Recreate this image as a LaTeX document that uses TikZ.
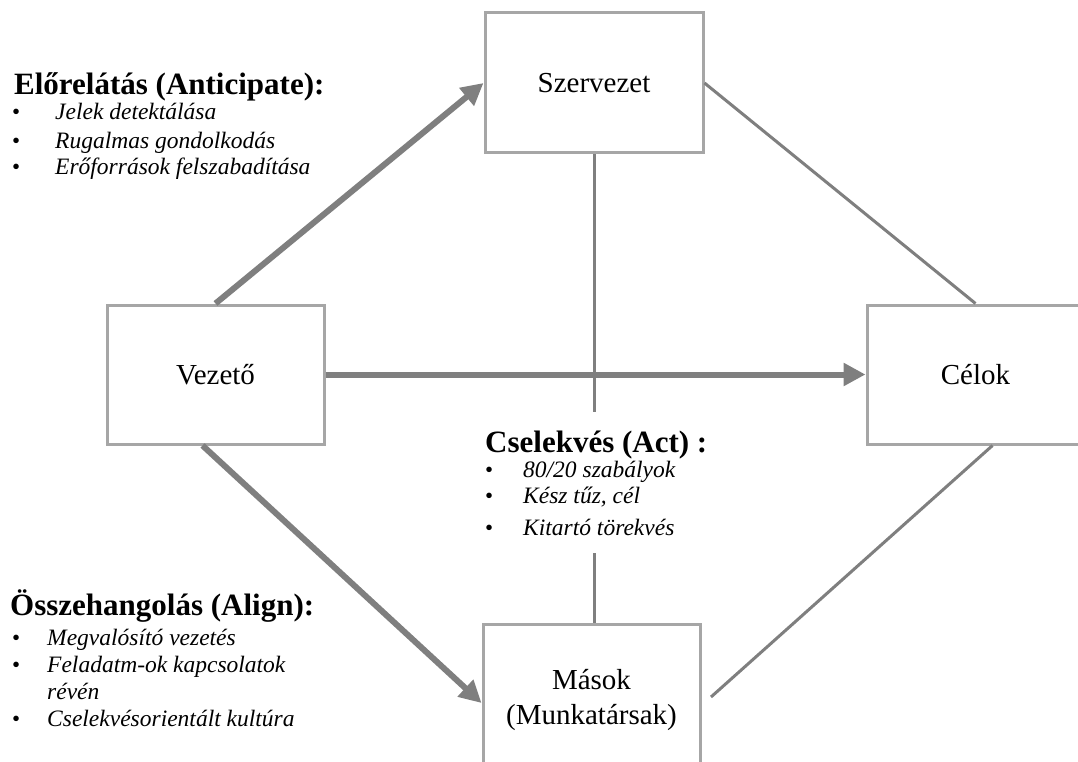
\documentclass[tikz,border=0pt]{standalone}
\usepackage{fontspec}
\setmainfont{Liberation Serif}
\usetikzlibrary{arrows.meta}
\definecolor{boxgray}{HTML}{A6A6A6}
\definecolor{linegray}{HTML}{7F7F7F}

\begin{document}
\begin{tikzpicture}[x=1pt,y=-1pt,
  box/.style={draw=boxgray, line width=3pt, fill=white, minimum width=217pt,
    minimum height=139pt, inner sep=0pt, align=center,
    font=\fontsize{29}{35}\selectfont},
  thickarrow/.style={draw=linegray, line width=6pt,
    -{Triangle[length=22pt,width=22pt]}},
  thinlink/.style={draw=linegray, line width=3pt},
  heading/.style={anchor=base west, inner sep=0pt, font=\fontsize{31}{34}\selectfont\bfseries},
  item/.style={anchor=base west, inner sep=0pt, font=\fontsize{23.5}{26}\selectfont\itshape},
  bullet/.style={anchor=base west, inner sep=0pt, font=\fontsize{23}{26}\selectfont}]
\useasboundingbox (0,0) rectangle (1078,762);
\clip (0,0) rectangle (1078,762);

% the four boxes
\node[box, minimum width=218pt, minimum height=140pt] (szerv) at (594,83) {Szervezet};
\node[box] (vez) at (215.5,374.5) {Vezető};
\node[box] (cel) at (975.5,374.5) {Célok};
\node[box, minimum height=152pt] (mas) at (591.5,700) {Mások\\(Munkatársak)};

% thick arrows leaving the leader
\draw[thickarrow] (vez.north) -- (szerv.west);
\draw[thickarrow] (vez.east) -- (cel.west);
\draw[thickarrow] ([xshift=-13pt]vez.south) -- ([yshift=-3pt]mas.west);

% thin links
\draw[thinlink] (szerv.east) -- (cel.north);
\coordinate (cmEnd) at (711,697);
\draw[thinlink] ([xshift=17pt]cel.south) -- (cmEnd);
\coordinate (actTop) at (594,412);
\coordinate (actBot) at (594,553);
\draw[thinlink] (szerv.south) -- (actTop);
\draw[thinlink] (actBot) -- (actBot |- mas.north);

% Anticipate
\node[heading] (antH) at (14,95) {Előrelátás (Anticipate):};
\node[bullet] (antB1) at (12,120) {•};
\node[bullet] (antB2) at (12,149) {•};
\node[bullet] (antB3) at (12,175) {•};
\node[item] (antI1) at (55,120) {Jelek detektálása};
\node[item] (antI2) at (55,149) {Rugalmas gondolkodás};
\node[item] (antI3) at (55,175) {Erőforrások felszabadítása};

% Act
\node[heading] (actH) at (485,452) {Cselekvés (Act) :};
\node[bullet] (actB1) at (485,477) {•};
\node[bullet] (actB2) at (485,503) {•};
\node[bullet] (actB3) at (485,535) {•};
\node[item] (actI1) at (523,477) {80/20 szabályok};
\node[item] (actI2) at (523,503) {Kész tűz, cél};
\node[item] (actI3) at (523,535) {Kitartó törekvés};

% Align
\node[heading] (alH) at (10,615) {Összehangolás (Align):};
\node[bullet] (alB1) at (12,645) {•};
\node[bullet] (alB2) at (12,672) {•};
\node[bullet] (alB4) at (12,726) {•};
\node[item] (alI1) at (47,645) {Megvalósító vezetés};
\node[item] (alI2) at (47,672) {Feladatm-ok kapcsolatok};
\node[item] (alI3) at (47,699) {révén};
\node[item] (alI4) at (47,726) {Cselekvésorientált kultúra};
\end{tikzpicture}
\end{document}
